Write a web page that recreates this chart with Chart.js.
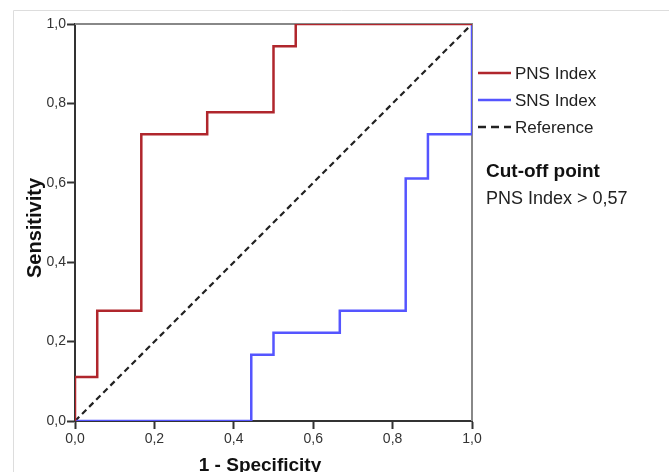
<!DOCTYPE html>
<html>
<head>
<meta charset="utf-8">
<script src="https://cdn.jsdelivr.net/npm/chart.js@4"></script>
<style>
  html, body { margin: 0; padding: 0; background: #fff; }
  canvas { display: block; }
</style>
</head>
<body>
<canvas id="roc" width="669" height="472"></canvas>
<script>
// ROC coordinates (1 - specificity, sensitivity)
var pnsFpr = [0, 0, 0.056, 0.056, 0.167, 0.167, 0.333, 0.333, 0.5, 0.5, 0.556, 0.556, 1];
var pnsTpr = [0, 0.111, 0.111, 0.278, 0.278, 0.722, 0.722, 0.778, 0.778, 0.944, 0.944, 1, 1];
var snsFpr = [0, 0.444, 0.444, 0.5, 0.5, 0.667, 0.667, 0.833, 0.833, 0.889, 0.889, 1, 1];
var snsTpr = [0, 0, 0.167, 0.167, 0.222, 0.222, 0.278, 0.278, 0.611, 0.611, 0.722, 0.722, 1];
var refFpr = [0, 1];
var refTpr = [0, 1];

var seriesLabels = ["PNS Index", "SNS Index", "Reference"];
var xTitle = "1 - Specificity";
var yTitle = "Sensitivity";
var noteTitle = "Cut-off point";
var noteText = "PNS Index > 0,57";

function toPoints(xs, ys) {
  return xs.map(function (x, i) { return { x: x, y: ys[i] }; });
}

function fmt(v) {
  return v.toFixed(1).replace('.', ',');
}

var colors = ['#b0262c', '#5555ff', '#222222'];
var dashes = [[], [], [6, 4]];
var legendDashes = [[], [], [8, 5]];

// frame, axis titles, legend and note
var extras = {
  id: 'extras',
  beforeDraw: function (chart) {
    var ctx = chart.ctx;
    ctx.save();
    ctx.strokeStyle = '#dddddd';
    ctx.lineWidth = 1;
    ctx.beginPath();
    ctx.moveTo(13.5, 472);
    ctx.lineTo(13.5, 10.5);
    ctx.lineTo(669, 10.5);
    ctx.stroke();
    ctx.restore();
  },
  beforeDatasetsDraw: function (chart) {
    var ctx = chart.ctx, a = chart.chartArea;
    ctx.save();
    ctx.strokeStyle = '#888888';
    ctx.lineWidth = 2;
    ctx.beginPath();
    ctx.moveTo(a.left, a.top);
    ctx.lineTo(a.right, a.top);
    ctx.lineTo(a.right, a.bottom);
    ctx.stroke();
    ctx.restore();
  },
  afterDraw: function (chart) {
    var ctx = chart.ctx;
    ctx.save();
    ctx.fillStyle = '#111';

    // axis titles
    ctx.font = 'bold 19px "Liberation Sans", Arial, sans-serif';
    ctx.textAlign = 'center';
    ctx.textBaseline = 'alphabetic';
    ctx.fillText(xTitle, 260, 471);
    ctx.save();
    ctx.translate(41, 228);
    ctx.rotate(-Math.PI / 2);
    ctx.font = 'bold 20px "Liberation Sans", Arial, sans-serif';
    ctx.fillText(yTitle, 0, 0);
    ctx.restore();

    // legend
    ctx.textAlign = 'left';
    ctx.textBaseline = 'middle';
    ctx.font = '17px "Liberation Sans", Arial, sans-serif';
    var ys = [73, 100, 127];
    seriesLabels.forEach(function (lab, i) {
      ctx.strokeStyle = colors[i];
      ctx.lineWidth = 2.5;
      ctx.setLineDash(legendDashes[i]);
      ctx.beginPath();
      ctx.moveTo(478, ys[i]);
      ctx.lineTo(511, ys[i]);
      ctx.stroke();
      ctx.setLineDash([]);
      ctx.fillStyle = '#222';
      ctx.fillText(lab, 515, ys[i] + 1);
    });

    // note
    ctx.fillStyle = '#111';
    ctx.font = 'bold 19px "Liberation Sans", Arial, sans-serif';
    ctx.fillText(noteTitle, 486, 172);
    ctx.font = '18px "Liberation Sans", Arial, sans-serif';
    ctx.fillStyle = '#222';
    ctx.fillText(noteText, 486, 199);
    ctx.restore();
  }
};

var rocChart = new Chart(document.getElementById('roc'), {
  type: 'scatter',
  data: {
    datasets: [
      {
        label: seriesLabels[0],
        data: toPoints(pnsFpr, pnsTpr),
        showLine: true,
        borderColor: colors[0],
        borderWidth: 2.5,
        pointRadius: 0,
        tension: 0
      },
      {
        label: seriesLabels[1],
        data: toPoints(snsFpr, snsTpr),
        showLine: true,
        borderColor: colors[1],
        borderWidth: 2.5,
        pointRadius: 0,
        tension: 0
      },
      {
        label: seriesLabels[2],
        data: toPoints(refFpr, refTpr),
        showLine: true,
        borderColor: colors[2],
        borderWidth: 2.2,
        borderDash: dashes[2],
        pointRadius: 0,
        tension: 0
      }
    ]
  },
  options: {
    responsive: false,
    animation: false,
    layout: { padding: { left: 0, top: 24, right: 197, bottom: 0 } },
    plugins: {
      legend: { display: false },
      tooltip: { enabled: false }
    },
    scales: {
      x: {
        type: 'linear',
        min: 0,
        max: 1,
        afterFit: function (s) { s.height = 51; },
        border: { display: true, color: '#333', width: 2 },
        grid: { display: true, drawOnChartArea: false, drawTicks: true, tickLength: 8, tickColor: '#333', tickWidth: 2 },
        ticks: {
          stepSize: 0.2,
          padding: 2,
          color: '#333',
          font: { family: '"Liberation Sans", Arial, sans-serif', size: 14 },
          callback: function (v) { return fmt(v); }
        }
      },
      y: {
        type: 'linear',
        min: 0,
        max: 1,
        afterFit: function (s) { s.width = 75; },
        border: { display: true, color: '#333', width: 2 },
        grid: { display: true, drawOnChartArea: false, drawTicks: true, tickLength: 8, tickColor: '#333', tickWidth: 2 },
        ticks: {
          stepSize: 0.2,
          padding: 1,
          color: '#333',
          font: { family: '"Liberation Sans", Arial, sans-serif', size: 14 },
          callback: function (v) { return fmt(v); }
        }
      }
    }
  },
  plugins: [extras]
});
</script>
</body>
</html>
